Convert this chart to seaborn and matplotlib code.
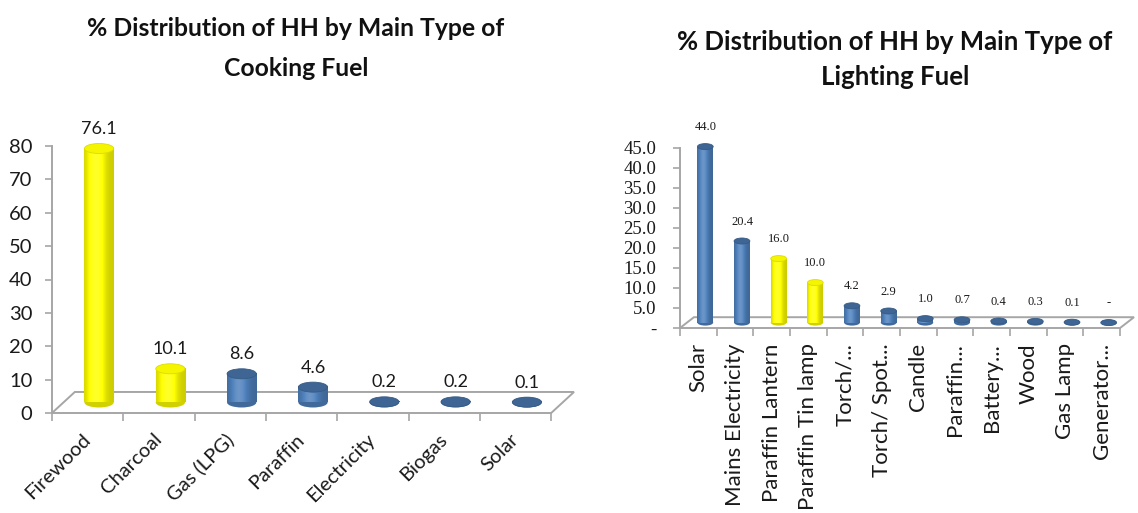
import numpy as np
import matplotlib
matplotlib.use("Agg")
import matplotlib.pyplot as plt
from matplotlib.patches import Ellipse, Polygon
from matplotlib.colors import to_rgb
import seaborn as sns

# ---- data -------------------------------------------------------------
cook_fuels = ["Firewood", "Charcoal", "Gas (LPG)", "Paraffin", "Electricity", "Biogas", "Solar"]
cook_share = [76.1, 10.1, 8.6, 4.6, 0.2, 0.2, 0.1]
cook_colors = ["#FFFF00", "#FFFF00", "#4F81BD", "#4F81BD", "#4F81BD", "#4F81BD", "#4F81BD"]

light_fuels = ["Solar", "Mains Electricity", "Paraffin Lantern", "Paraffin Tin lamp",
               "Torch/...", "Torch/ Spot...", "Candle", "Paraffin...", "Battery...",
               "Wood", "Gas Lamp", "Generator..."]
light_share = [44.0, 20.4, 16.0, 10.0, 4.2, 2.9, 1.0, 0.7, 0.4, 0.3, 0.1, 0.0]
light_colors = ["#4F81BD", "#4F81BD", "#FFFF00", "#FFFF00", "#4F81BD", "#4F81BD",
                "#4F81BD", "#4F81BD", "#4F81BD", "#4F81BD", "#4F81BD", "#4F81BD"]

cook_yticks = [0, 10, 20, 30, 40, 50, 60, 70, 80]
light_yticks = [0, 5, 10, 15, 20, 25, 30, 35, 40, 45]

# ---- style ------------------------------------------------------------
sns.set_style("white")
plt.rcParams["font.family"] = ["Lato", "DejaVu Sans"]
GRID = "#A6A6A6"
INK = "#1a1a1a"

fig = plt.figure(figsize=(11.38, 5.13), dpi=100)


def shaded_strip(color, n=64):
    """Horizontal colour profile that makes a flat bar look like a cylinder."""
    base = np.array(to_rgb(color))
    t = np.linspace(0, 1, n)
    f = 0.80 + 0.38 * np.exp(-((t - 0.40) / 0.28) ** 2)
    out = np.empty((1, n, 3))
    for i, fi in enumerate(f):
        if fi <= 1:
            out[0, i] = base * fi
        else:
            out[0, i] = base + (1 - base) * (fi - 1) * 0.9
    return np.clip(out, 0, 1)


def cap_color(color):
    base = np.array(to_rgb(color))
    if base[2] > 0.5:        # blue cylinders have a darker lid
        return tuple(base * 0.78)
    return tuple(np.clip(base * 0.96, 0, 1))


def cylinder_chart(ax, cats, vals, colors, width, depth_x, depth_y, cap_h,
                   ylim, yticks, ytick_fmt, ytick_font, ytick_pad, val_fmt, val_font, val_off,
                   xlab_font, xlab_rot, xlab_pad):
    n = len(cats)
    sns.barplot(x=cats, y=vals, hue=cats, palette=colors, legend=False,
                width=width, saturation=1, ax=ax, linewidth=0)

    bars = sorted(ax.patches, key=lambda p: p.get_x())
    # push each bar half way back into the floor of the pseudo-3D box
    for p, c, v in zip(bars, colors, vals):
        p.set_x(p.get_x() + depth_x / 2)
        p.set_y(depth_y / 2)
        x0, w = p.get_x(), p.get_width()
        y0, h = p.get_y(), p.get_height()
        cx = x0 + w / 2
        # bottom lid
        ax.add_patch(Ellipse((cx, y0), w, cap_h, facecolor=tuple(np.array(to_rgb(c)) * 0.82),
                             edgecolor="none", zorder=2, clip_on=False))
        # body shading
        if h > 0:
            ax.imshow(shaded_strip(c), extent=[x0, x0 + w, y0, y0 + h], aspect="auto",
                      interpolation="bilinear", zorder=3, clip_on=False)
        p.set_visible(False)
        # top lid
        ax.add_patch(Ellipse((cx, y0 + h), w, cap_h, facecolor=cap_color(c),
                             edgecolor=tuple(np.array(cap_color(c)) * 0.9), linewidth=0.6,
                             zorder=4, clip_on=False))
        ax.annotate(val_fmt(v), (cx, y0 + h), xytext=(0, val_off), textcoords="offset points",
                    ha="center", va="center", zorder=5, annotation_clip=False, **val_font)

    # floor of the box
    x_l, x_r = -0.5, n - 0.5
    floor = Polygon([(x_l, 0), (x_r, 0), (x_r + depth_x, depth_y), (x_l + depth_x, depth_y)],
                    closed=True, facecolor="none", edgecolor=GRID, linewidth=1.4, zorder=1,
                    clip_on=False)
    ax.add_patch(floor)

    ax.set_xlim(x_l, x_r + depth_x)
    ax.set_ylim(*ylim)
    for s in ["top", "right", "bottom"]:
        ax.spines[s].set_visible(False)
    ax.spines["left"].set_color(GRID)
    ax.spines["left"].set_linewidth(1.4)
    ax.spines["left"].set_bounds(0, ylim[1])

    ax.set_yticks(yticks)
    ax.set_yticklabels([ytick_fmt(t) for t in yticks], **ytick_font)
    ax.tick_params(axis="y", which="major", left=True, length=5, width=1.2, color=GRID,
                   pad=ytick_pad)

    ax.set_xticks(np.arange(n))
    ax.set_xticklabels(cats, rotation=xlab_rot, rotation_mode="anchor",
                       ha="right", va="center", **xlab_font)
    ax.tick_params(axis="x", which="major", length=0, pad=xlab_pad)
    ax.set_xticks(np.arange(n + 1) - 0.5, minor=True)
    ax.tick_params(axis="x", which="minor", bottom=True, length=6, width=1.2, color=GRID)
    ax.set_xlabel("")
    ax.set_ylabel("")
    ax.set_facecolor("none")


# ---- cooking fuel -----------------------------------------------------
ax1 = fig.add_axes([52 / 1138, (513 - 413) / 513, 522 / 1138, 267 / 513])
cylinder_chart(ax1, cook_fuels, cook_share, cook_colors,
               width=0.41, depth_x=0.32, depth_y=6.3, cap_h=3.0,
               ylim=(0, 80), yticks=cook_yticks, ytick_fmt=lambda t: f"{t:d}",
               ytick_font=dict(fontsize=14.5, color=INK), ytick_pad=9,
               val_fmt=lambda v: f"{v:.1f}", val_font=dict(fontsize=13, color=INK),
               val_off=14, xlab_font=dict(fontsize=14.5, color=INK),
               xlab_rot=45, xlab_pad=17)

# ---- lighting fuel ----------------------------------------------------
ax2 = fig.add_axes([680 / 1138, (513 - 328) / 513, 454 / 1138, 180 / 513])
cylinder_chart(ax2, light_fuels, light_share, light_colors,
               width=0.43, depth_x=0.38, depth_y=2.7, cap_h=1.5,
               ylim=(0, 45), yticks=light_yticks,
               ytick_fmt=lambda t: "-" if t == 0 else f"{t:.1f}",
               ytick_font=dict(fontsize=13.5, color=INK, family="Liberation Serif"),
               ytick_pad=12,
               val_fmt=lambda v: "-" if v == 0 else f"{v:.1f}",
               val_font=dict(fontsize=9, color=INK, family="Liberation Serif"),
               val_off=14, xlab_font=dict(fontsize=16, color=INK),
               xlab_rot=90, xlab_pad=11)

# ---- titles -----------------------------------------------------------
title_kw = dict(ha="center", va="center", fontweight="bold", color="#111111")
fig.text(296 / 1138, 1 - 29 / 513, "% Distribution of HH by Main Type of", fontsize=17.8, **title_kw)
fig.text(296 / 1138, 1 - 68 / 513, "Cooking Fuel", fontsize=17.8, **title_kw)
fig.text(895 / 1138, 1 - 42 / 513, "% Distribution of HH by Main Type of", fontsize=18.5, **title_kw)
fig.text(895 / 1138, 1 - 77 / 513, "Lighting Fuel", fontsize=18.5, **title_kw)

fig.savefig("out.png", dpi=100, facecolor="white")
